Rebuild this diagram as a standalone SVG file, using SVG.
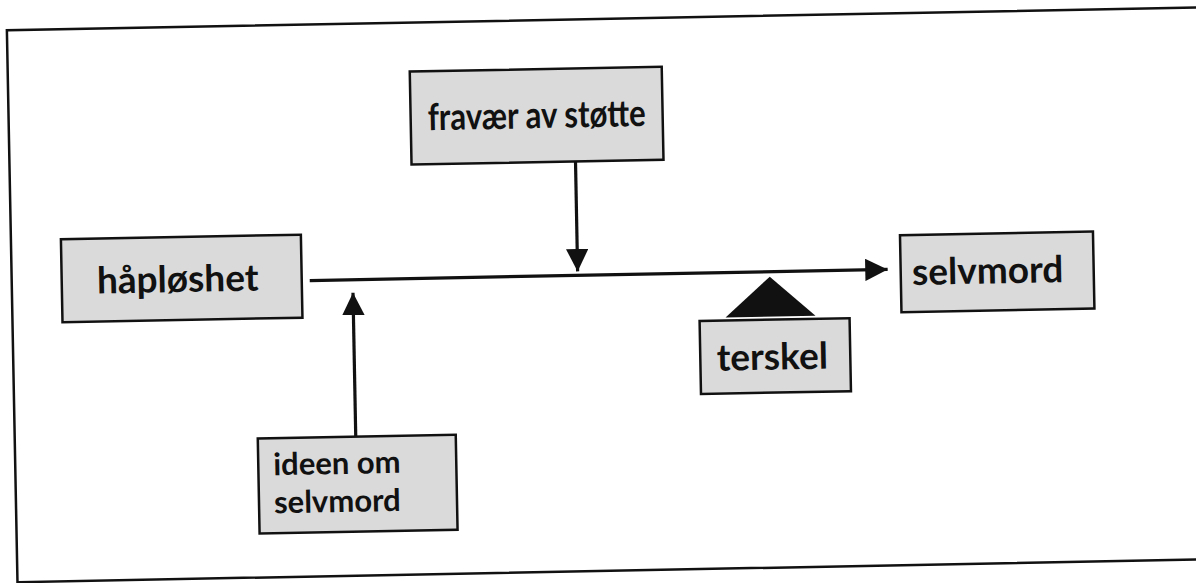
<svg xmlns="http://www.w3.org/2000/svg" width="1196" height="583" viewBox="0 0 1196 583">
<style>
.box{fill:#dadada;stroke:#111;stroke-width:2.5}
.lbl{font-family:Lato,"Open Sans","Liberation Sans",sans-serif;font-weight:bold;font-size:37px;fill:#111}
.lbl2{font-family:Lato,"Open Sans","Liberation Sans",sans-serif;font-weight:bold;font-size:31px;fill:#111}
.conn{stroke:#111;stroke-width:3.2;fill:none}
</style>
<defs>
<marker id="ah" viewBox="0 0 10 10" refX="10" refY="5" markerWidth="7" markerHeight="7" markerUnits="strokeWidth" orient="auto">
<path d="M0,0 L10,5 L0,10 z" fill="#111"/>
</marker>
</defs>
<rect width="1196" height="583" fill="#fff"/>
<g transform="rotate(-1.1 598 291)">
<rect id="frame" x="12" y="19" width="1200" height="552" fill="none" stroke="#111" stroke-width="2.5"/>
<g id="connectors">
<line class="conn" x1="310" y1="275" x2="888" y2="275" marker-end="url(#ah)"/>
<line class="conn" x1="578" y1="161" x2="578" y2="271" marker-end="url(#ah)"/>
<line class="conn" x1="353" y1="432" x2="353" y2="288" marker-end="url(#ah)"/>
</g>
<g id="fravaer">
<rect class="box" x="414" y="68" width="252" height="93"/>
<text class="lbl" x="540" y="127" text-anchor="middle" textLength="218" lengthAdjust="spacingAndGlyphs">fravær av støtte</text>
</g>
<g id="haploshet">
<rect class="box" x="62" y="229" width="240" height="83"/>
<text class="lbl" x="178" y="284" text-anchor="middle">håpløshet</text>
</g>
<g id="selvmord">
<rect class="box" x="901" y="241" width="193" height="77"/>
<text class="lbl" x="988" y="291" text-anchor="middle">selvmord</text>
</g>
<g id="terskel">
<path d="M770,280 L815,320 L725,320 z" fill="#111"/>
<rect class="box" x="699" y="323" width="150" height="73"/>
<text class="lbl" x="771" y="373" text-anchor="middle">terskel</text>
</g>
<g id="ideen">
<rect class="box" x="255" y="432" width="198" height="95"/>
<text class="lbl2" x="270" y="469">ideen om</text>
<text class="lbl2" x="270" y="507">selvmord</text>
</g>
</g>
</svg>
